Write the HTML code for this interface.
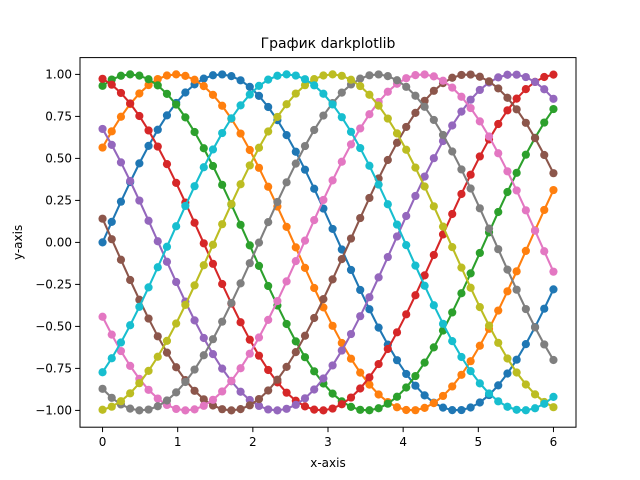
<!DOCTYPE html>
<html><head><meta charset="utf-8">
<style>
html,body{margin:0;padding:0;background:#fff;}
svg{display:block;font-family:"DejaVu Sans","Liberation Sans",sans-serif;}
</style></head>
<body>
<svg id="chart" width="640" height="480" viewBox="0 0 640 480" xmlns="http://www.w3.org/2000/svg">
<rect width="640" height="480" fill="#fff"/>
<text x="328" y="48" text-anchor="middle" font-size="14">График darkplotlib</text>
<g id="series"></g>
<rect x="80" y="57.6" width="496" height="369.6" fill="none" stroke="#000" stroke-width="1"/>
<g id="axes"></g>
<text x="328" y="467" text-anchor="middle" font-size="12">x-axis</text>
<text x="22" y="242.4" text-anchor="middle" font-size="12" transform="rotate(-90 22 242.4)">y-axis</text>
</svg>
<script>
const xTicks = [0,1,2,3,4,5,6];
const yTicks = [-1.00,-0.75,-0.50,-0.25,0.00,0.25,0.50,0.75,1.00];
const phases = [0,0.6,1.2,1.8,2.4,3.0,3.6,4.2,4.8,5.4];
const colors = ["#1f77b4","#ff7f0e","#2ca02c","#d62728","#9467bd","#8c564b","#e377c2","#7f7f7f","#bcbd22","#17becf"];
const nPoints = 50, xMin = 0, xMax = 6;

const L=80,R=576,T=57.6,B=427.2;
const xs = v => L + (v - (-0.3)) / 6.6 * (R - L);
const ys = v => B - (v - (-1.1)) / 2.2 * (B - T);
const NS="http://www.w3.org/2000/svg";
const sg=document.getElementById('series'), ax=document.getElementById('axes');

phases.forEach((p,i)=>{
  const g=document.createElementNS(NS,'g');
  
  
  let d='';
  const pts=[];
  for(let j=0;j<nPoints;j++){
    const x=xMin+(xMax-xMin)*j/(nPoints-1);
    const y=Math.sin(x+p);
    pts.push([xs(x),ys(y)]);
    d+=(j?'L':'M')+xs(x).toFixed(2)+' '+ys(y).toFixed(2);
  }
  const path=document.createElementNS(NS,'path');
  
  
  path.setAttribute('d',d);path.setAttribute('fill','none');
  path.setAttribute('stroke',colors[i]);path.setAttribute('stroke-width','2.08');
  g.appendChild(path);
  pts.forEach(pt=>{
    const c=document.createElementNS(NS,'circle');
    
    
    c.setAttribute('cx',pt[0]);c.setAttribute('cy',pt[1]);c.setAttribute('r','4.1');
    c.setAttribute('fill',colors[i]);
    g.appendChild(c);
  });
  sg.appendChild(g);
});

xTicks.forEach(t=>{
  const l=document.createElementNS(NS,'line');
  
  
  l.setAttribute('x1',xs(t));l.setAttribute('x2',xs(t));l.setAttribute('y1',B);l.setAttribute('y2',B+4.9);
  l.setAttribute('stroke','#000');l.setAttribute('stroke-width','1');
  ax.appendChild(l);
  const tx=document.createElementNS(NS,'text');
  
  
  tx.setAttribute('x',xs(t));tx.setAttribute('y',B+19);tx.setAttribute('text-anchor','middle');tx.setAttribute('font-size','12');
  tx.textContent=String(t);
  ax.appendChild(tx);
});
yTicks.forEach(t=>{
  const l=document.createElementNS(NS,'line');
  
  
  l.setAttribute('x1',L-4.9);l.setAttribute('x2',L);l.setAttribute('y1',ys(t));l.setAttribute('y2',ys(t));
  l.setAttribute('stroke','#000');l.setAttribute('stroke-width','1');
  ax.appendChild(l);
  const tx=document.createElementNS(NS,'text');
  
  
  tx.setAttribute('x',L-8);tx.setAttribute('y',ys(t)+4.3);tx.setAttribute('text-anchor','end');tx.setAttribute('font-size','12');
  tx.textContent=(t<0?'\u2212':'')+Math.abs(t).toFixed(2);
  ax.appendChild(tx);
});
</script>
</body></html>
